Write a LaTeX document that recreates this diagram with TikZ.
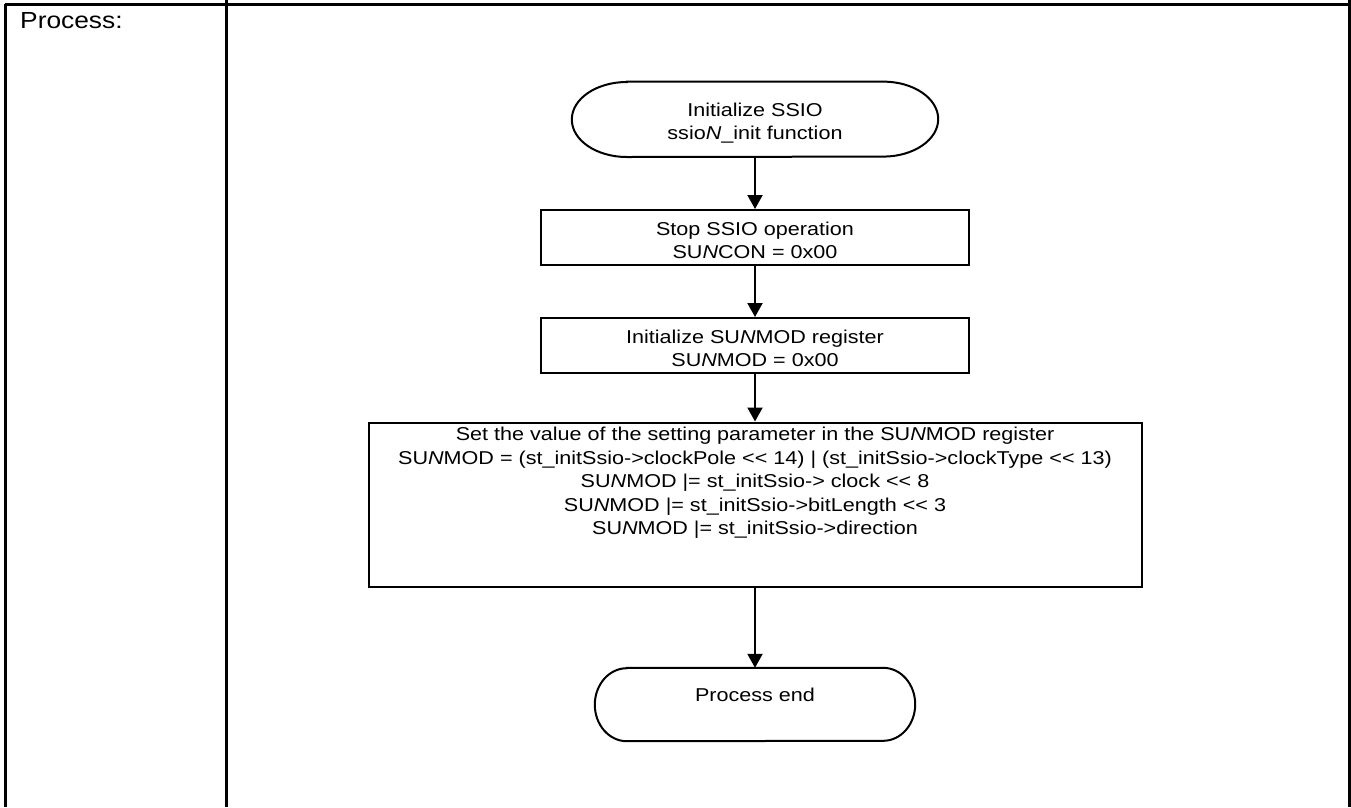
\documentclass[tikz,border=0pt]{standalone}
\usepackage{fontspec}
\setmainfont{Liberation Sans}
\newfontfamily\flowfamily[FakeStretch=1.16]{Liberation Sans}
\newfontfamily\headfamily[FakeStretch=1.13]{Liberation Sans}
\usetikzlibrary{arrows.meta}

\begin{document}
\begin{tikzpicture}[x=1pt,y=-1pt,
  rule/.style={line width=3pt},
  flowtext/.style={font=\flowfamily\fontsize{18.6}{23.5}\selectfont,align=center,inner sep=0pt},
  stepbox/.style={draw,line width=2pt,minimum width=428pt,minimum height=55pt,flowtext},
  termbox/.style={minimum height=75pt,flowtext},
  termline/.style={line width=2pt},
  flow/.style={line width=2pt,-{Triangle[width=15pt,length=14pt]}},
]
\useasboundingbox (0,0) rectangle (1351,807);

% table frame
\draw[rule] (5,4) -- (1349,4);
\draw[rule] (5,4) -- (5,807);
\draw[rule] (226,0) -- (226,807);
\draw[rule] (1349,0) -- (1349,807);
\node[anchor=base west,inner sep=0pt,font=\headfamily\fontsize{23.3}{28}\selectfont] (lbl) at (20,28.5) {Process:};

% start terminal
\node[termbox,minimum width=366pt,text height=45pt] (start) at (755,119.3) {Initialize SSIO\\ssio\textit{N}\_init function};
\draw[termline] ([xshift=55pt]start.north west) -- ([xshift=-55pt]start.north east)
  arc[start angle=90,end angle=-90,x radius=55pt,y radius=37.5pt]
  -- ([xshift=55pt]start.south west)
  arc[start angle=270,end angle=90,x radius=55pt,y radius=37.5pt] -- cycle;

% processing steps
\node[stepbox,text height=42pt,text depth=0pt] (b1) at (755,237.5) {Stop SSIO operation\\SU\textit{N}CON = 0x00};
\node[stepbox,text height=42pt,text depth=0pt] (b2) at (755,345.5) {Initialize SU\textit{N}MOD register\\SU\textit{N}MOD = 0x00};
\node[stepbox,minimum width=773pt,minimum height=164pt] (b3) at (755,504.5) {};
\node[flowtext,anchor=north] (b3t) at ([yshift=-5.5pt]b3.north) {Set the value of the setting parameter in the SU\textit{N}MOD register\\
SU\textit{N}MOD = (st\_initSsio->clockPole << 14) | (st\_initSsio->clockType << 13)\\
SU\textit{N}MOD |= st\_initSsio-> clock << 8\\
SU\textit{N}MOD |= st\_initSsio->bitLength << 3\\
SU\textit{N}MOD |= st\_initSsio->direction};

% end terminal
\node[termbox,minimum width=320pt,minimum height=73pt,text height=13.6pt,text depth=19pt] (end) at (755,704.5) {Process end};
\draw[termline] ([xshift=32pt]end.north west) -- ([xshift=-32pt]end.north east)
  arc[start angle=90,end angle=-90,x radius=32pt,y radius=36.5pt]
  -- ([xshift=32pt]end.south west)
  arc[start angle=270,end angle=90,x radius=32pt,y radius=36.5pt] -- cycle;

% connectors
\draw[flow] (start.south) -- (b1.north);
\draw[flow] (b1.south) -- (b2.north);
\draw[flow] (b2.south) -- (b3.north);
\draw[flow] (b3.south) -- (end.north);
\end{tikzpicture}
\end{document}
